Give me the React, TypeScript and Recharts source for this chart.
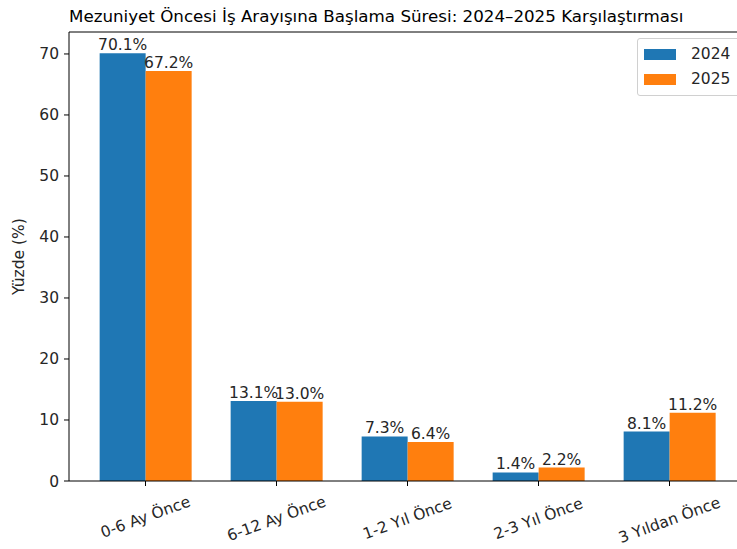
import React from 'react';
import { BarChart, Bar, XAxis, YAxis, LabelList, ReferenceLine } from 'recharts';

const categories = ['0-6 Ay Önce', '6-12 Ay Önce', '1-2 Yıl Önce', '2-3 Yıl Önce', '3 Yıldan Önce'];
const values2024 = [70.1, 13.1, 7.3, 1.4, 8.1];
const values2025 = [67.2, 13.0, 6.4, 2.2, 11.2];
const yTicks = [0, 10, 20, 30, 40, 50, 60, 70];
const yMax = 73.6;

const data = categories.map((name, i) => ({ name, y2024: values2024[i], y2025: values2025[i] }));

const FONT = 'DejaVu Sans, sans-serif';
const FS = 15.5;
const BLUE = '#1f77b4';
const ORANGE = '#ff7f0e';

// rotated tick label, centred under the tick like matplotlib rotation=20
const XTick = (props: any) => {
  const { x, y, payload } = props;
  const w = String(payload.value).length * FS * 0.58;
  const h = FS;
  const rad = (20 * Math.PI) / 180;
  const bboxH = w * Math.sin(rad) + h * Math.cos(rad);
  const cy = y + 5 + bboxH / 2;
  return (
    <text
      x={x}
      y={cy}
      textAnchor="middle"
      dominantBaseline="central"
      transform={`rotate(-20, ${x}, ${cy})`}
      fontSize={FS}
      fontFamily={FONT}
      fill="#262626"
    >
      {payload.value}
    </text>
  );
};

const LegendBox = () => (
  <div
    style={{
      position: 'absolute',
      left: 637,
      top: 38,
      width: 115,
      height: 58,
      border: '1px solid #d0d0d0',
      borderRadius: 3,
      background: 'rgba(255,255,255,0.8)',
      fontFamily: FONT,
      fontSize: FS,
      color: '#262626',
      boxSizing: 'border-box',
    }}
  >
    {[
      { label: '2024', color: BLUE },
      { label: '2025', color: ORANGE },
    ].map((it, i) => (
      <div key={it.label} style={{ position: 'absolute', left: 6, top: 9 + i * 25, display: 'flex', alignItems: 'center' }}>
        <div style={{ width: 32, height: 11, background: it.color }} />
        <span style={{ marginLeft: 15, lineHeight: '12px' }}>{it.label}</span>
      </div>
    ))}
  </div>
);

export default function App() {
  return (
    <div style={{ position: 'absolute', left: 0, top: 0, width: 737, height: 549, overflow: 'hidden', background: '#fff' }}>
      <div
        style={{
          position: 'absolute',
          left: 69,
          top: 6,
          fontFamily: FONT,
          fontSize: 16.7,
          color: '#000',
          whiteSpace: 'nowrap',
        }}
      >
        Mezuniyet Öncesi İş Arayışına Başlama Süresi: 2024–2025 Karşılaştırması
      </div>
      <BarChart
        width={760}
        height={549}
        data={data}
        margin={{ top: 32, right: 14, bottom: 0, left: 0 }}
        barCategoryGap="15%"
        barGap={0}
        style={{ position: 'absolute', left: 0, top: 0 }}
      >
        <XAxis
          dataKey="name"
          padding={{ left: 11, right: 11 }}
          tick={<XTick />}
          tickSize={5}
          stroke="#000"
          axisLine={{ stroke: '#000' }}
          tickLine={{ stroke: '#000' }}
          interval={0}
          height={68}
        />
        <YAxis
          domain={[0, yMax]}
          ticks={yTicks}
          width={69}
          tickSize={5}
          tickMargin={5}
          stroke="#000"
          tick={{ fontSize: FS, fontFamily: FONT, fill: '#262626' }}
          label={{
            value: 'Yüzde (%)',
            angle: -90,
            position: 'insideLeft',
            offset: 18,
            style: { fontSize: FS, fontFamily: FONT, fill: '#262626', textAnchor: 'middle' },
          }}
        />
        <ReferenceLine y={yMax} stroke="#000" ifOverflow="extendDomain" />
        <Bar dataKey="y2024" name="2024" fill={BLUE} isAnimationActive={false}>
          <LabelList
            dataKey="y2024"
            position="top"
            offset={3}
            formatter={(v: any) => `${Number(v).toFixed(1)}%`}
            style={{ fontSize: FS, fontFamily: FONT, fill: '#262626' }}
          />
        </Bar>
        <Bar dataKey="y2025" name="2025" fill={ORANGE} isAnimationActive={false}>
          <LabelList
            dataKey="y2025"
            position="top"
            offset={3}
            formatter={(v: any) => `${Number(v).toFixed(1)}%`}
            style={{ fontSize: FS, fontFamily: FONT, fill: '#262626' }}
          />
        </Bar>
      </BarChart>
      <LegendBox />
    </div>
  );
}
